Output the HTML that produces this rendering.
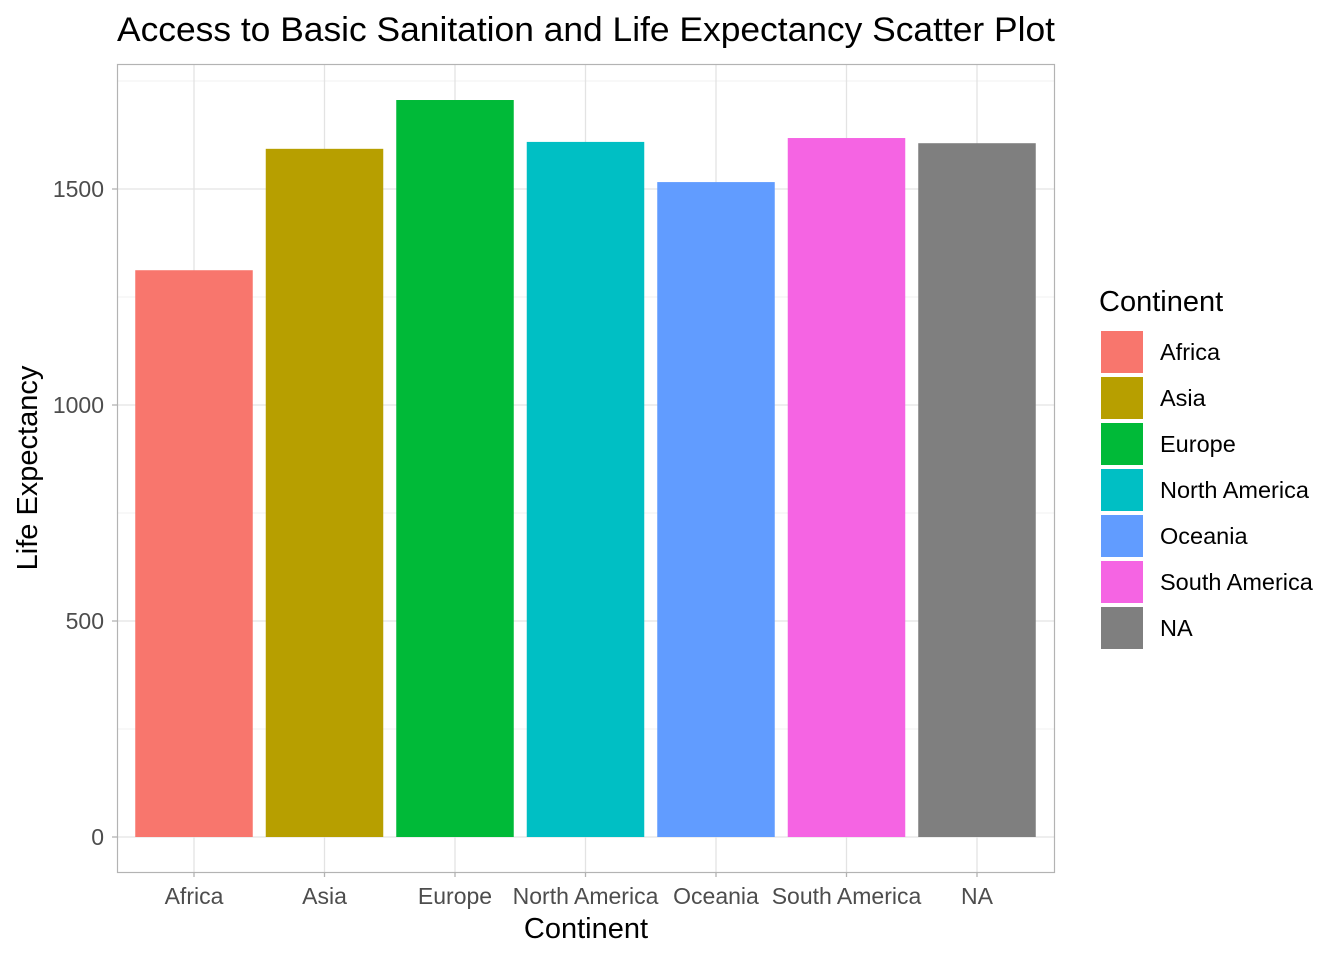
<!DOCTYPE html>
<html><head><meta charset="utf-8"><style>
body{margin:0;background:#fff;}
svg{display:block;font-family:"Liberation Sans",sans-serif;}
</style></head><body>
<svg id="chart" width="1344" height="960" xmlns="http://www.w3.org/2000/svg">
<text x="117" y="41" font-size="34" textLength="938" lengthAdjust="spacingAndGlyphs" fill="#000">Access to Basic Sanitation and Life Expectancy Scatter Plot</text>
<rect x="117" y="64" width="937" height="808" fill="#fff"/>
<g id="grid"></g>
<g id="bars"></g>
<rect x="117.5" y="64.5" width="937" height="808" fill="none" stroke="#b3b3b3" stroke-width="1.2"/>
<g id="axes"></g>
<text x="586" y="938" font-size="29" text-anchor="middle" fill="#000">Continent</text>
<text transform="translate(37,468) rotate(-90)" font-size="29" text-anchor="middle" fill="#000">Life Expectancy</text>
<text x="1099" y="311" font-size="29" fill="#000">Continent</text>
<g id="legend"></g>
</svg>
<script>
const categories=["Africa","Asia","Europe","North America","Oceania","South America","NA"];
const values=[1312,1593,1706,1609,1516,1618,1606];
const colors=["#F8766D","#B79F00","#00BA38","#00BFC4","#619CFF","#F564E3","#7F7F7F"];
const yTicks=[0,500,1000,1500];
const yMinor=[250,750,1250,1750];
const NS="http://www.w3.org/2000/svg";
const y=v=>837-v*0.432;
const x=i=>194+130.5*i;
const bw=117.5;
function mk(t,a,p){const e=document.createElementNS(NS,t);for(const k in a)e.setAttribute(k,a[k]);p.appendChild(e);return e;}
const grid=document.getElementById('grid'),bars=document.getElementById('bars'),axes=document.getElementById('axes'),legend=document.getElementById('legend');
yMinor.forEach(v=>{const l=mk('line',{x1:117,x2:1054,y1:y(v),y2:y(v),stroke:'#f0f0f0','stroke-width':1},grid);

});
yTicks.forEach(v=>{const l=mk('line',{x1:117,x2:1054,y1:y(v),y2:y(v),stroke:'#e3e3e3','stroke-width':1.3},grid);


const t=mk('line',{x1:112,x2:117,y1:y(v),y2:y(v),stroke:'#b3b3b3','stroke-width':1.3},axes);


const tx=mk('text',{x:104,y:y(v)+8,'font-size':23,'text-anchor':'end',fill:'#4d4d4d'},axes);tx.textContent=v;

});
categories.forEach((c,i)=>{const l=mk('line',{x1:x(i),x2:x(i),y1:64,y2:872,stroke:'#e3e3e3','stroke-width':1.3},grid);


const b=mk('rect',{x:x(i)-bw/2,y:y(values[i]),width:bw,height:y(0)-y(values[i]),fill:colors[i]},bars);


const t=mk('line',{x1:x(i),x2:x(i),y1:872,y2:877,stroke:'#b3b3b3','stroke-width':1.3},axes);


const tx=mk('text',{x:x(i),y:904,'font-size':23,'text-anchor':'middle',fill:'#4d4d4d'},axes);tx.textContent=c;


const k=mk('rect',{x:1101,y:331+46*i,width:42,height:42,fill:colors[i]},legend);


const lt=mk('text',{x:1160,y:360+46*i,'font-size':23.5,fill:'#000'},legend);lt.textContent=c;

});
</script>
</body></html>
